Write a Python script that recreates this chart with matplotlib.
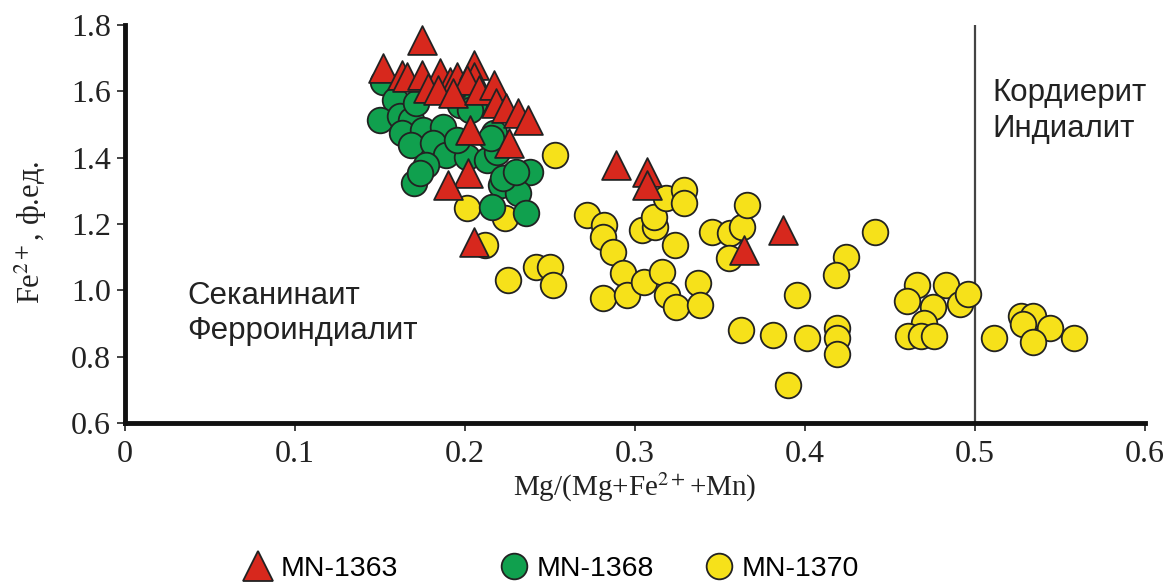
import numpy as np
import matplotlib
matplotlib.use("Agg")
import matplotlib.pyplot as plt
from matplotlib.lines import Line2D

plt.rcParams['mathtext.fontset'] = 'stix'

# MN-1363 (red triangles)
x_1363 = [0.1745, 0.152, 0.163, 0.166, 0.1745, 0.185, 0.191, 0.195, 0.205, 0.205,
          0.201, 0.178, 0.184, 0.193, 0.208, 0.217, 0.218, 0.224, 0.231, 0.237,
          0.203, 0.226, 0.202, 0.190, 0.205, 0.289, 0.307, 0.307, 0.364, 0.387]
y_1363 = [1.755, 1.669, 1.649, 1.644, 1.649, 1.654, 1.629, 1.644, 1.679, 1.644,
          1.634, 1.609, 1.604, 1.594, 1.604, 1.619, 1.564, 1.549, 1.534, 1.514,
          1.483, 1.443, 1.353, 1.318, 1.147, 1.378, 1.358, 1.318, 1.122, 1.182]

# MN-1368 (green circles)
x_1368 = [0.152, 0.159, 0.150, 0.162, 0.168, 0.171, 0.163, 0.175, 0.187, 0.168,
          0.181, 0.189, 0.177, 0.201, 0.213, 0.219, 0.217, 0.197, 0.205, 0.170,
          0.1735, 0.221, 0.226, 0.238, 0.231, 0.216, 0.236, 0.195, 0.215, 0.203,
          0.2225, 0.230]
y_1368 = [1.629, 1.574, 1.514, 1.524, 1.514, 1.564, 1.473, 1.483, 1.493, 1.438,
          1.443, 1.408, 1.378, 1.403, 1.393, 1.418, 1.473, 1.559, 1.564, 1.323,
          1.353, 1.318, 1.343, 1.358, 1.293, 1.252, 1.232, 1.453, 1.458, 1.544,
          1.338, 1.358]

# MN-1370 (yellow circles)
x_1370 = [0.253, 0.201, 0.2235, 0.212, 0.2255, 0.242, 0.250, 0.252, 0.2716, 0.282,
          0.281, 0.287, 0.293, 0.281, 0.295, 0.305, 0.316, 0.304, 0.312, 0.311,
          0.318, 0.329, 0.329, 0.3235, 0.319, 0.324, 0.337, 0.338, 0.345, 0.356,
          0.363, 0.366, 0.355, 0.362, 0.381, 0.441, 0.424, 0.418, 0.395, 0.401,
          0.419, 0.419, 0.419, 0.390, 0.466, 0.483, 0.460, 0.475, 0.470, 0.491,
          0.496, 0.4605, 0.468, 0.476, 0.511, 0.527, 0.534, 0.528, 0.544, 0.534,
          0.558]
y_1370 = [1.408, 1.247, 1.217, 1.137, 1.031, 1.071, 1.071, 1.016, 1.227, 1.197,
          1.162, 1.117, 1.051, 0.976, 0.986, 1.026, 1.056, 1.182, 1.192, 1.222,
          1.277, 1.303, 1.262, 1.137, 0.986, 0.951, 1.021, 0.956, 1.177, 1.172,
          1.192, 1.257, 1.097, 0.881, 0.865, 1.177, 1.099, 1.047, 0.985, 0.855,
          0.886, 0.855, 0.809, 0.715, 1.016, 1.016, 0.969, 0.949, 0.902, 0.959,
          0.990, 0.861, 0.861, 0.861, 0.855, 0.923, 0.923, 0.897, 0.886, 0.845,
          0.855]

labels = ['MN-1363', 'MN-1368', 'MN-1370']
colors = ['#d7281d', '#10a04e', '#f6e11a']
x_ticks = [0, 0.1, 0.2, 0.3, 0.4, 0.5, 0.6]
x_ticklabels = ['0', '0.1', '0.2', '0.3', '0.4', '0.5', '0.6']
y_ticks = [0.6, 0.8, 1.0, 1.2, 1.4, 1.6, 1.8]
y_ticklabels = ['0.6', '0.8', '1.0', '1.2', '1.4', '1.6', '1.8']
boundary = 0.5

fig = plt.figure(figsize=(11.7, 5.88), dpi=100)
ax = fig.add_axes([0.1068, 0.2806, 0.872, 0.677])

ax.scatter(x_1370, y_1370, s=340, marker='o', c=colors[2], edgecolors='#222222',
           linewidths=1.3, zorder=2)
ax.scatter(x_1368, y_1368, s=340, marker='o', c=colors[1], edgecolors='#222222',
           linewidths=1.3, zorder=3)
ax.scatter(x_1363, y_1363, s=430, marker='^', c=colors[0], edgecolors='#222222',
           linewidths=1.3, zorder=4)

ax.axvline(boundary, color='#444444', lw=1.6, zorder=1)

ax.set_xlim(0, 0.6)
ax.set_ylim(0.6, 1.8)
ax.set_xticks(x_ticks)
ax.set_xticklabels(x_ticklabels)
ax.set_yticks(y_ticks)
ax.set_yticklabels(y_ticklabels)

for side in ['top', 'right']:
    ax.spines[side].set_visible(False)
for side in ['left', 'bottom']:
    ax.spines[side].set_linewidth(3.5)
    ax.spines[side].set_color('#111111')

ax.tick_params(direction='out', length=6, width=1.2, pad=4,
               labelsize=23, colors='#222222')
ax.tick_params(axis='x', pad=6)
for lab in ax.get_xticklabels() + ax.get_yticklabels():
    lab.set_family('Liberation Serif')

ax.set_xlabel('Mg/(Mg+Fe$^{2+}$+Mn)', family='Liberation Serif', fontsize=21,
              color='#222222')
ax.xaxis.set_label_coords(0.5, -0.12)
ax.set_ylabel('Fe$^{2+}$, ф.ед.', family='Liberation Serif', fontsize=22,
              color='#222222')
ax.yaxis.set_label_coords(-0.074, 0.48)

ax.text(0.0365, 0.93, 'Секанинаит\nФерроиндиалит', fontsize=22.5,
        family='Liberation Sans', color='#222222', linespacing=1.25,
        va='center', ha='left')
ax.text(0.51, 1.54, 'Кордиерит\nИндиалит', fontsize=22.5,
        family='Liberation Sans', color='#222222', linespacing=1.25,
        va='center', ha='left')

# legend entries placed individually
leg_x = [0.184, 0.403, 0.578]
markers = ['^', 'o', 'o']
msizes = [21, 18.5, 18.5]
for lab, col, mk, ms, lx in zip(labels, colors, markers, msizes, leg_x):
    h = Line2D([], [], marker=mk, color='none', markerfacecolor=col,
               markeredgecolor='#222222', markeredgewidth=1.3, markersize=ms)
    fig.legend([h], [lab], loc='center left', bbox_to_anchor=(lx, 0.033),
               frameon=False, handletextpad=0.2, handlelength=1.2,
               prop={'family': 'Liberation Sans', 'size': 20.5})

fig.savefig('out.png', dpi=100)
